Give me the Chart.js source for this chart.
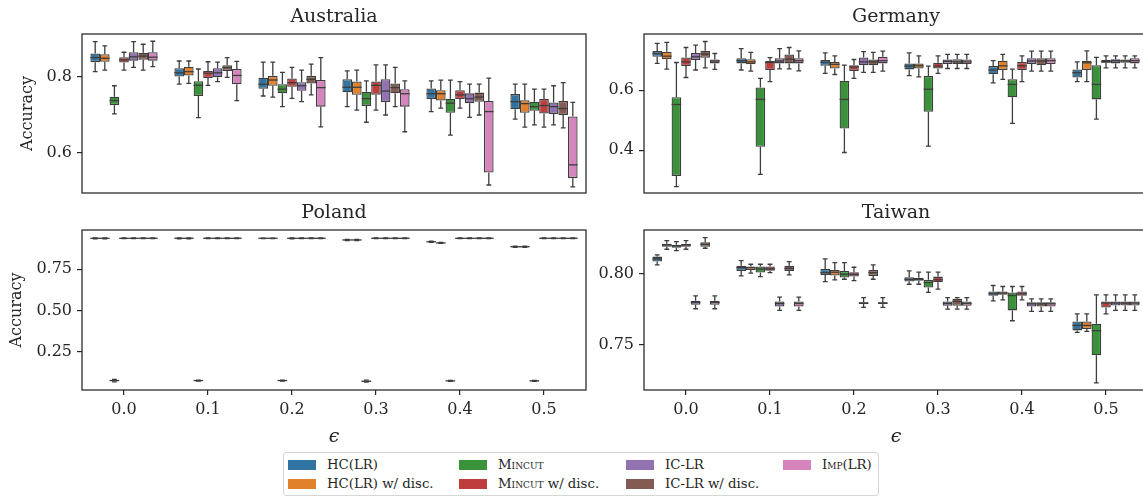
<!DOCTYPE html>
<html>
<head>
<meta charset="utf-8">
<style>
html, body { margin: 0; padding: 0; background: #fff; overflow: hidden; }
#wrap { position: relative; width: 1143px; height: 498px; overflow: hidden; }
.panel { position: absolute; }
#legend {
    position: absolute; left: 283px; top: 452px; width: 594px; height: 42px;
    border: 1px solid #d6d6d6; border-radius: 3px; background: #fff;
    font-family: 'DejaVu Serif', serif; font-size: 13.3px; color: #262626;
}
#legend .item { position: absolute; white-space: nowrap; line-height: 16px; }
#legend .sw { display: inline-block; width: 28px; height: 10px; margin-right: 11px; vertical-align: -1px; }
.sc { font-variant: small-caps; }
</style>
</head>
<body>
<div id="wrap">
    <div class="panel" style="left:0;top:0"><canvas id="aus" width="590" height="213"></canvas></div>
    <div class="panel" style="left:562px;top:0"><canvas id="ger" width="590" height="213"></canvas></div>
    <div class="panel" style="left:0;top:196px"><canvas id="pol" width="590" height="253"></canvas></div>
    <div class="panel" style="left:562px;top:196px"><canvas id="twn" width="590" height="253"></canvas></div>
    <div id="legend"></div>
</div>

<script src="https://cdn.jsdelivr.net/npm/chart.js"></script>
<script>
const epsLabels = ['0.0', '0.1', '0.2', '0.3', '0.4', '0.5'];
const methods = ['HC(LR)', 'HC(LR) w/ disc.', 'Mincut', 'Mincut w/ disc.', 'IC-LR', 'IC-LR w/ disc.', 'Imp(LR)'];
const colors = ['#3274a1', '#e1812c', '#3a923a', '#c03d3e', '#9372b2', '#845b53', '#d684bd'];

// box stats per method, one row per epsilon: [low whisker, q1, median, q3, high whisker]
const australia = [
    [[0.814,0.839,0.851,0.862,0.893],[0.781,0.801,0.811,0.823,0.842],[0.750,0.769,0.781,0.798,0.839],[0.722,0.760,0.773,0.794,0.816],[0.709,0.742,0.756,0.770,0.790],[0.689,0.715,0.735,0.755,0.781]],
    [[0.818,0.840,0.849,0.860,0.882],[0.783,0.804,0.814,0.827,0.842],[0.747,0.777,0.792,0.803,0.839],[0.713,0.753,0.773,0.788,0.818],[0.718,0.738,0.756,0.765,0.792],[0.668,0.706,0.730,0.739,0.781]],
    [[0.703,0.726,0.738,0.748,0.777],[0.693,0.750,0.778,0.789,0.821],[0.722,0.757,0.768,0.781,0.812],[0.681,0.724,0.743,0.761,0.790],[0.647,0.706,0.731,0.743,0.792],[0.674,0.711,0.722,0.735,0.768]],
    [[0.818,0.838,0.845,0.852,0.865],[0.778,0.797,0.810,0.816,0.840],[0.744,0.774,0.785,0.796,0.825],[0.713,0.753,0.778,0.788,0.832],[0.718,0.742,0.753,0.765,0.788],[0.668,0.704,0.725,0.742,0.768]],
    [[0.825,0.843,0.853,0.865,0.893],[0.788,0.799,0.811,0.823,0.839],[0.735,0.764,0.777,0.786,0.818],[0.700,0.734,0.763,0.794,0.832],[0.694,0.731,0.743,0.757,0.781],[0.674,0.703,0.722,0.733,0.777]],
    [[0.818,0.845,0.855,0.864,0.886],[0.799,0.816,0.825,0.831,0.851],[0.753,0.783,0.794,0.803,0.834],[0.722,0.757,0.772,0.783,0.825],[0.700,0.735,0.747,0.759,0.781],[0.666,0.700,0.717,0.737,0.785]],
    [[0.827,0.843,0.852,0.865,0.894],[0.738,0.781,0.804,0.821,0.841],[0.669,0.722,0.772,0.792,0.851],[0.656,0.722,0.756,0.768,0.790],[0.516,0.549,0.709,0.737,0.797],[0.511,0.534,0.569,0.696,0.733]]
];
const germany = [
    [[0.689,0.711,0.722,0.730,0.756],[0.667,0.689,0.698,0.706,0.738],[0.656,0.681,0.693,0.700,0.724],[0.648,0.669,0.680,0.689,0.724],[0.624,0.653,0.667,0.680,0.698],[0.628,0.642,0.658,0.669,0.694]],
    [[0.670,0.703,0.713,0.728,0.759],[0.663,0.686,0.694,0.703,0.726],[0.652,0.672,0.686,0.694,0.714],[0.644,0.672,0.681,0.689,0.714],[0.636,0.667,0.681,0.698,0.719],[0.628,0.667,0.691,0.698,0.731]],
    [[0.278,0.314,0.552,0.576,0.692],[0.319,0.411,0.569,0.609,0.639],[0.392,0.472,0.569,0.631,0.683],[0.413,0.528,0.603,0.647,0.680],[0.489,0.576,0.619,0.636,0.670],[0.503,0.569,0.619,0.683,0.709]],
    [[0.642,0.680,0.694,0.709,0.742],[0.628,0.667,0.692,0.697,0.708],[0.639,0.664,0.677,0.683,0.702],[0.656,0.672,0.680,0.691,0.714],[0.628,0.667,0.681,0.694,0.714],[0.674,0.691,0.694,0.700,0.714]],
    [[0.667,0.700,0.711,0.724,0.750],[0.671,0.689,0.697,0.706,0.738],[0.659,0.683,0.694,0.709,0.728],[0.672,0.687,0.696,0.702,0.719],[0.663,0.687,0.697,0.706,0.730],[0.674,0.689,0.698,0.703,0.714]],
    [[0.674,0.708,0.720,0.731,0.762],[0.671,0.689,0.703,0.719,0.742],[0.659,0.683,0.694,0.702,0.726],[0.672,0.687,0.694,0.703,0.719],[0.663,0.683,0.697,0.706,0.730],[0.674,0.691,0.697,0.702,0.714]],
    [[0.669,0.689,0.697,0.702,0.722],[0.664,0.689,0.698,0.706,0.731],[0.663,0.689,0.698,0.711,0.730],[0.672,0.687,0.694,0.702,0.719],[0.663,0.687,0.698,0.706,0.730],[0.674,0.689,0.698,0.706,0.714]]
];
const poland = [
    [[0.932,0.934,0.936,0.937,0.939],[0.932,0.934,0.936,0.937,0.939],[0.934,0.935,0.936,0.936,0.937],[0.922,0.924,0.926,0.927,0.929],[0.912,0.914,0.915,0.916,0.918],[0.882,0.884,0.885,0.886,0.888]],
    [[0.932,0.934,0.936,0.937,0.939],[0.932,0.934,0.936,0.937,0.939],[0.934,0.935,0.936,0.936,0.937],[0.922,0.924,0.926,0.927,0.929],[0.905,0.907,0.908,0.909,0.911],[0.882,0.884,0.885,0.886,0.888]],
    [[0.070,0.074,0.078,0.081,0.085],[0.074,0.076,0.078,0.079,0.081],[0.074,0.076,0.078,0.079,0.081],[0.068,0.071,0.074,0.077,0.080],[0.073,0.075,0.076,0.077,0.079],[0.073,0.075,0.076,0.078,0.079]],
    [[0.934,0.935,0.936,0.937,0.938],[0.934,0.935,0.936,0.937,0.938],[0.933,0.935,0.936,0.937,0.939],[0.934,0.935,0.936,0.937,0.938],[0.934,0.935,0.936,0.937,0.938],[0.934,0.935,0.936,0.937,0.938]],
    [[0.934,0.935,0.936,0.937,0.938],[0.934,0.935,0.936,0.937,0.938],[0.934,0.935,0.936,0.937,0.938],[0.934,0.935,0.936,0.937,0.938],[0.934,0.935,0.936,0.937,0.938],[0.934,0.935,0.936,0.937,0.938]],
    [[0.934,0.935,0.936,0.937,0.938],[0.934,0.935,0.936,0.937,0.938],[0.934,0.935,0.936,0.937,0.938],[0.934,0.935,0.936,0.937,0.938],[0.934,0.935,0.936,0.937,0.938],[0.934,0.935,0.936,0.937,0.938]],
    [[0.934,0.935,0.936,0.937,0.938],[0.934,0.935,0.936,0.937,0.938],[0.934,0.935,0.936,0.937,0.938],[0.934,0.935,0.936,0.937,0.938],[0.934,0.935,0.936,0.937,0.938],[0.934,0.935,0.936,0.937,0.938]]
];
const taiwan = [
    [[0.8063,0.8087,0.8106,0.8122,0.8134],[0.7986,0.8021,0.8044,0.8058,0.8094],[0.7946,0.7993,0.8009,0.8035,0.8106],[0.7927,0.7946,0.7962,0.7977,0.8021],[0.7810,0.7845,0.7859,0.7876,0.7918],[0.7587,0.7601,0.7636,0.7664,0.7718]],
    [[0.8174,0.8192,0.8204,0.8213,0.8235],[0.8005,0.8028,0.8044,0.8052,0.8068],[0.7958,0.7988,0.8012,0.8028,0.8080],[0.7927,0.7951,0.7962,0.7972,0.8012],[0.7817,0.7852,0.7864,0.7876,0.7911],[0.7594,0.7610,0.7636,0.7664,0.7718]],
    [[0.8164,0.8185,0.8197,0.8206,0.8228],[0.7981,0.8009,0.8035,0.8052,0.8068],[0.7962,0.7974,0.7998,0.8021,0.8080],[0.7869,0.7904,0.7939,0.7958,0.8012],[0.7669,0.7742,0.7847,0.7869,0.7911],[0.7230,0.7425,0.7599,0.7648,0.7852]],
    [[0.8174,0.8192,0.8204,0.8213,0.8235],[0.8009,0.8023,0.8035,0.8052,0.8068],[0.7953,0.7981,0.7998,0.8012,0.8047],[0.7892,0.7941,0.7958,0.7981,0.8012],[0.7817,0.7845,0.7859,0.7876,0.7911],[0.7718,0.7763,0.7794,0.7805,0.7852]],
    [[0.7754,0.7782,0.7798,0.7810,0.7845],[0.7742,0.7770,0.7791,0.7805,0.7836],[0.7763,0.7788,0.7794,0.7800,0.7833],[0.7751,0.7775,0.7791,0.7805,0.7833],[0.7735,0.7770,0.7789,0.7800,0.7824],[0.7742,0.7777,0.7794,0.7805,0.7852]],
    [[0.8181,0.8192,0.8209,0.8223,0.8256],[0.7993,0.8021,0.8038,0.8058,0.8087],[0.7962,0.7986,0.8009,0.8028,0.8063],[0.7751,0.7775,0.7805,0.7824,0.7833],[0.7735,0.7770,0.7789,0.7800,0.7824],[0.7742,0.7777,0.7794,0.7805,0.7852]],
    [[0.7754,0.7782,0.7798,0.7810,0.7845],[0.7742,0.7770,0.7791,0.7805,0.7836],[0.7763,0.7788,0.7794,0.7800,0.7833],[0.7751,0.7775,0.7791,0.7805,0.7833],[0.7735,0.7770,0.7789,0.7800,0.7824],[0.7742,0.7777,0.7794,0.7805,0.7852]]
];

const ausTicks = [0.6, 0.8];
const gerTicks = [0.4, 0.6];
const polTicks = [0.25, 0.50, 0.75];
const twnTicks = [0.75, 0.80];

const ink = '#262626';
const edge = '#3d3d3d';
const serif = "'DejaVu Serif', serif";

// whiskers behind the boxes; medians, frame and panel title on top
const boxPlugin = {
    id: 'boxes',
    beforeDatasetsDraw(chart) {
        const ctx = chart.ctx, y = chart.scales.y;
        ctx.save();
        ctx.strokeStyle = edge;
        ctx.lineWidth = 1.3;
        chart.data.datasets.forEach((ds, i) => {
            chart.getDatasetMeta(i).data.forEach((bar, j) => {
                const s = ds.stats[j];
                const cap = bar.width / 4;
                const lo = y.getPixelForValue(s[0]), q1 = y.getPixelForValue(s[1]);
                const q3 = y.getPixelForValue(s[3]), hi = y.getPixelForValue(s[4]);
                ctx.beginPath();
                ctx.moveTo(bar.x, q3); ctx.lineTo(bar.x, hi);
                ctx.moveTo(bar.x - cap, hi); ctx.lineTo(bar.x + cap, hi);
                ctx.moveTo(bar.x, q1); ctx.lineTo(bar.x, lo);
                ctx.moveTo(bar.x - cap, lo); ctx.lineTo(bar.x + cap, lo);
                ctx.stroke();
            });
        });
        ctx.restore();
    },
    afterDatasetsDraw(chart, args, opts) {
        const ctx = chart.ctx, y = chart.scales.y, a = chart.chartArea;
        ctx.save();
        ctx.strokeStyle = edge;
        ctx.lineWidth = 1.3;
        chart.data.datasets.forEach((ds, i) => {
            chart.getDatasetMeta(i).data.forEach((bar, j) => {
                const m = y.getPixelForValue(ds.stats[j][2]);
                ctx.beginPath();
                ctx.moveTo(bar.x - bar.width / 2, m);
                ctx.lineTo(bar.x + bar.width / 2, m);
                ctx.stroke();
            });
        });
        ctx.strokeStyle = ink;
        ctx.lineWidth = 1.25;
        ctx.strokeRect(a.left, a.top, a.right - a.left, a.bottom - a.top);
        ctx.fillStyle = ink;
        ctx.font = '19px ' + serif;
        ctx.textAlign = 'center';
        ctx.textBaseline = 'middle';
        ctx.fillText(opts.title, (a.left + a.right) / 2, 17.5);
        ctx.restore();
    }
};

function boxChart(id, title, stats, yMin, yMax, yTicks, digits, bottomRow, yTitlePad) {
    return new Chart(document.getElementById(id), {
        type: 'bar',
        data: {
            labels: epsLabels,
            datasets: methods.map((m, i) => ({
                label: m,
                data: stats[i].map(s => [s[1], s[3]]),
                stats: stats[i],
                backgroundColor: colors[i],
                borderColor: edge,
                borderWidth: 1.3,
                borderSkipped: false,
                categoryPercentage: 0.8,
                barPercentage: 1.0
            }))
        },
        options: {
            responsive: false,
            animation: false,
            layout: { padding: { left: 0, right: 4, top: 34, bottom: 0 } },
            plugins: {
                legend: { display: false },
                tooltip: { enabled: false },
                title: { display: false },
                boxes: { title: title }
            },
            scales: {
                x: {
                    offset: true,
                    grid: { display: bottomRow, offset: false, drawOnChartArea: false, tickLength: 5, color: ink, lineWidth: 1.2 },
                    border: { display: false },
                    ticks: { display: bottomRow, color: ink, font: { family: serif, size: 16 }, padding: 5, maxRotation: 0 },
                    title: {
                        display: bottomRow, text: 'ϵ', color: ink,
                        font: { family: serif, size: 19, style: 'italic' },
                        padding: { top: 0, bottom: 1 }
                    },
                    afterFit: s => { s.height = bottomRow ? 59 : 20; }
                },
                y: {
                    min: yMin,
                    max: yMax,
                    afterBuildTicks: s => { s.ticks = yTicks.map(v => ({ value: v })); },
                    grid: { drawOnChartArea: false, tickLength: 5, color: ink, lineWidth: 1.2 },
                    border: { display: false },
                    ticks: { color: ink, font: { family: serif, size: 16 }, padding: 5, callback: v => v.toFixed(digits) },
                    title: {
                        display: yTitlePad !== null, text: 'Accuracy', color: ink,
                        font: { family: serif, size: 16 },
                        padding: { top: yTitlePad || 0 }
                    },
                    afterFit: s => { s.width = 82; }
                }
            }
        },
        plugins: [boxPlugin]
    });
}

boxChart('aus', 'Australia', australia, 0.495, 0.913, ausTicks, 1, false, 18);
boxChart('ger', 'Germany', germany, 0.257, 0.787, gerTicks, 1, false, null);
boxChart('pol', 'Poland', poland, 0.021, 0.986, polTicks, 2, true, 7);
boxChart('twn', 'Taiwan', taiwan, 0.718, 0.831, twnTicks, 2, true, null);

// legend: 4 columns, filled column by column
const legendCols = [4, 175, 342, 499];
const legendRows = [4, 23];
const legend = document.getElementById('legend');
methods.forEach((m, i) => {
    const item = document.createElement('div');
    item.className = 'item';
    item.style.left = legendCols[Math.floor(i / 2)] + 'px';
    item.style.top = legendRows[i % 2] + 'px';
    const label = m.replace(/^(Mincut|Imp)/, '<span class="sc">$1</span>');
    item.innerHTML = '<span class="sw" style="background:' + colors[i] + '"></span>' + label;
    legend.appendChild(item);
});
</script>
</body>
</html>
